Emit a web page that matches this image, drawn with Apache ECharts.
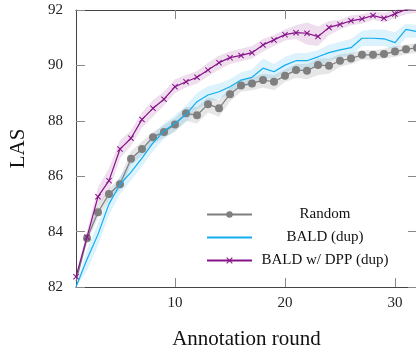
<!DOCTYPE html>
<html>
<head>
<meta charset="utf-8">
<script src="https://cdn.jsdelivr.net/npm/echarts@6/dist/echarts.min.js"></script>
<style>
  html, body { margin: 0; padding: 0; background: #fff; }
  #chart { width: 416px; height: 352px; }
</style>
</head>
<body>
<div id="chart"></div>
<script>
const rounds = [1, 2, 3, 4, 5, 6, 7, 8, 9, 10, 11, 12, 13, 14, 15, 16,
  17, 18, 19, 20, 21, 22, 23, 24, 25, 26, 27, 28, 29, 30, 31, 32];
const yTicks = [82, 84, 86, 88, 90, 92];
const xTicks = [10, 20, 30];

// mean LAS per round
const randomMean = [82.2, 83.76, 84.7, 85.36, 85.71, 86.63, 86.98, 87.41, 87.6, 87.87, 88.27, 88.2,
  88.6, 88.45, 88.96, 89.27, 89.35, 89.47, 89.41, 89.63, 89.83, 89.81, 90.01, 89.99,
  90.17, 90.25, 90.38, 90.38, 90.41, 90.5, 90.58, 90.64];
const baldMean = [82.0, 83.0, 83.9, 85.0, 85.7, 86.15, 86.65, 87.2, 87.63, 87.91, 88.23, 88.69,
  88.93, 89.05, 89.23, 89.47, 89.57, 89.9, 89.77, 90.01, 90.17, 90.17, 90.31, 90.46,
  90.56, 90.64, 90.98, 90.98, 90.96, 90.82, 91.3, 91.22];
const dppMean = [82.37, 83.8, 85.26, 85.84, 86.98, 87.37, 88.05, 88.45, 88.78, 89.23, 89.41, 89.57,
  89.83, 90.1, 90.28, 90.36, 90.46, 90.74, 90.92, 91.11, 91.18, 91.16, 91.04, 91.37,
  91.48, 91.61, 91.68, 91.8, 91.7, 91.86, 92.02, 92.06];

// shaded bands (lower / upper)
const randomLow = [82.1, 83.6, 84.5, 85.15, 85.5, 86.4, 86.75, 87.15, 87.4, 87.6, 88.0, 87.9,
  88.3, 88.15, 88.7, 89.05, 89.1, 89.2, 89.1, 89.4, 89.55, 89.5, 89.65, 89.7,
  89.95, 90.05, 90.2, 90.2, 90.25, 90.3, 90.4, 90.45];
const randomHigh = [82.3, 83.95, 84.95, 85.55, 85.95, 86.9, 87.25, 87.6, 87.85, 88.1, 88.5, 88.5,
  88.85, 88.75, 89.2, 89.45, 89.55, 89.7, 89.65, 89.85, 90.05, 90.05, 90.25, 90.25,
  90.4, 90.45, 90.55, 90.55, 90.6, 90.7, 90.75, 90.8];
const baldLow = [82.0, 82.6, 83.5, 84.6, 85.35, 85.85, 86.35, 86.9, 87.35, 87.65, 87.95, 88.4,
  88.65, 88.8, 88.95, 89.2, 89.3, 89.55, 89.5, 89.75, 89.85, 89.85, 90.0, 90.15,
  90.3, 90.35, 90.7, 90.7, 90.7, 90.55, 91.0, 91.0];
const baldHigh = [82.1, 83.35, 84.3, 85.3, 86.0, 86.5, 87.0, 87.5, 87.9, 88.2, 88.55, 89.0,
  89.25, 89.35, 89.5, 89.75, 89.85, 90.25, 90.05, 90.3, 90.45, 90.45, 90.55, 90.75,
  90.85, 90.95, 91.25, 91.3, 91.3, 91.2, 91.5, 91.45];
const dppLow = [82.3, 83.6, 84.95, 85.45, 86.65, 87.1, 87.75, 88.15, 88.55, 89.0, 89.2, 89.35,
  89.6, 89.85, 90.05, 90.15, 90.25, 90.5, 90.7, 90.9, 90.95, 90.75, 90.7, 91.1,
  91.3, 91.45, 91.5, 91.65, 91.55, 91.7, 91.85, 91.9];
const dppHigh = [82.45, 84.0, 85.6, 86.3, 87.3, 87.65, 88.3, 88.75, 89.05, 89.5, 89.65, 89.8,
  90.1, 90.35, 90.5, 90.6, 90.7, 90.95, 91.1, 91.3, 91.45, 91.55, 91.4, 91.6,
  91.65, 91.8, 91.85, 91.95, 91.9, 92.0, 92.15, 92.2];

const FONT = "Liberation Serif";
const GREY = "#7f7f7f";
const BLUE = "#12aef0";
const PURPLE = "#87138a";
const CROSS = "path://M0,1.2L1.2,0L5,3.8L8.8,0L10,1.2L6.2,5L10,8.8L8.8,10L5,6.2L1.2,10L0,8.8L3.8,5Z";

const showTick = (i, v) => xTicks.includes(Number(v));

function band(name, low, high, color) {
  return [
    {
      name: name + "-low", type: "line", stack: name, data: low,
      symbol: "none", lineStyle: { opacity: 0 }, silent: true, z: 1,
    },
    {
      name: name + "-band", type: "line", stack: name,
      data: high.map((h, i) => +(h - low[i]).toFixed(3)),
      symbol: "none", lineStyle: { opacity: 0 }, silent: true, z: 1,
      areaStyle: { color: color, opacity: 1 },
    },
  ];
}

const chart = echarts.init(document.getElementById("chart"));
chart.setOption({
  animation: false,
  grid: { left: 76, right: -1, top: 10, bottom: 65, outerBoundsMode: "none", containLabel: false },
  legend: {
    data: [
      "Random",
      { name: "BALD (dup)", itemStyle: { opacity: 0 } },
      "BALD w/ DPP (dup)",
    ],
    orient: "vertical", left: 201, top: 202,
    itemWidth: 45, itemHeight: 8, itemGap: 8,
    formatter: (n) => "{c|" + n + "}",
    textStyle: {
      fontFamily: FONT, fontSize: 15, color: "#111",
      rich: { c: { width: 136, align: "center", lineHeight: 15, fontFamily: FONT, fontSize: 15 } },
    },
  },
  xAxis: [
    {
      type: "category", data: rounds, boundaryGap: false,
      name: "Annotation round", nameLocation: "middle", nameGap: 42,
      nameTextStyle: { fontFamily: FONT, fontSize: 21, color: "#111" },
      axisLine: { lineStyle: { color: "#444", width: 1 } },
      axisTick: { inside: true, length: 9, interval: showTick, lineStyle: { color: "#888" } },
      axisLabel: { interval: showTick, margin: 9, fontFamily: FONT, fontSize: 15, color: "#222" },
      splitLine: { show: false },
    },
    {
      type: "category", data: rounds, boundaryGap: false, position: "top",
      axisLine: { lineStyle: { color: "#444", width: 1 } },
      axisTick: { inside: true, length: 9, interval: showTick, lineStyle: { color: "#888" } },
      axisLabel: { show: false },
    },
  ],
  yAxis: [
    {
      type: "value", min: yTicks[0], max: yTicks[yTicks.length - 1], interval: 2,
      name: "LAS", nameLocation: "middle", nameGap: 47,
      nameTextStyle: { fontFamily: FONT, fontSize: 21, color: "#111" },
      axisLine: { show: true, lineStyle: { color: "#444", width: 1 } },
      axisTick: { show: true, inside: true, length: 9, lineStyle: { color: "#888" } },
      axisLabel: { margin: 13, fontFamily: FONT, fontSize: 15, color: "#222" },
      splitLine: { show: false },
    },
    {
      type: "value", min: yTicks[0], max: yTicks[yTicks.length - 1], interval: 2, position: "right",
      axisLine: { show: true, lineStyle: { color: "#444", width: 1 } },
      axisTick: { show: true, inside: true, length: 9, lineStyle: { color: "#888" } },
      axisLabel: { show: false },
      splitLine: { show: false },
    },
  ],
  series: [
    ...band("random", randomLow, randomHigh, "rgba(128,128,128,0.2)"),
    ...band("bald", baldLow, baldHigh, "rgba(20,170,240,0.15)"),
    ...band("dpp", dppLow, dppHigh, "rgba(135,19,138,0.14)"),
    {
      name: "Random", type: "line", z: 3,
      // first round has no visible marker in the reference
      data: randomMean.map((v, i) => (i === 0 ? { value: v, symbol: "none" } : v)),
      symbol: "circle", symbolSize: 8, showAllSymbol: true,
      lineStyle: { color: GREY, width: 1.2 }, itemStyle: { color: GREY },
    },
    {
      name: "BALD (dup)", type: "line", data: baldMean, z: 4,
      symbol: "none",
      lineStyle: { color: BLUE, width: 1.2 }, itemStyle: { color: BLUE },
    },
    {
      name: "BALD w/ DPP (dup)", type: "line", data: dppMean, z: 5,
      symbol: CROSS, symbolSize: 6, showAllSymbol: true,
      lineStyle: { color: PURPLE, width: 1.2 }, itemStyle: { color: PURPLE },
    },
  ],
});
</script>
</body>
</html>
